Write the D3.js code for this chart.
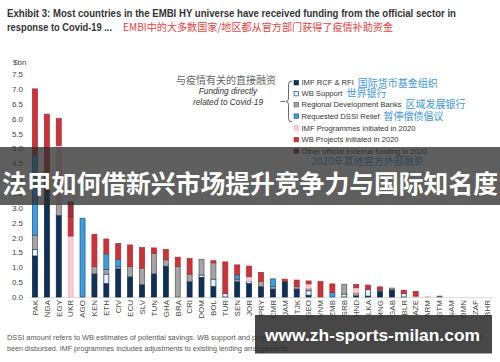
<!DOCTYPE html>
<html lang="en">
<head>
<meta charset="utf-8">
<script src="https://cdn.jsdelivr.net/npm/d3@7"></script>
<style>
body { margin: 0; background: #fff; }
svg { display: block; font-family: "Liberation Sans", Arial, sans-serif; }
.tick-label { font-size: 8px; fill: #444; }
.cn { font-family: "Noto Sans CJK SC", sans-serif; }
</style>
</head>
<body>
<div id="chart"></div>
<script>

var countries = ["PAK","NGA","EGY","UKR","AGO","KEN","ETH","CIV","ECU","SLV","TUN","GHA","BRA","CRI","DOM","BOL","TUR","SEN","JOR","PRY","CMR","JAM","TJK","GEO","VNM","ZMB","SRB","HND","LKA","MNG","GAB","BLR","AZE","ARM","GTM","NAM","OMN","ZAF","BHR"];

// segment sizes, $bn
var imfRcf   = [1.38,3.6,2.75,0,0,0.78,0.45,0.95,0.68,0.42,0.78,1.04,0,0.52,0.66,0.35,0,0.52,0.45,0.35,0.27,0.52,0.27,0.06,0,0,0,0.04,0.03,0.2,0.24,0,0,0,0,0,0,0,0];
var wbSupport= [0.22,0,0,0,0,0,0.32,0,0,0,0,0,0,0,0.08,0.25,0.12,0,0.08,0,0,0,0,0.15,0,0,0.1,0,0.22,0,0,0.12,0,0,0,0,0,0,0];
var rdb      = [0.48,0,0.35,0,0,0.24,0.16,0.08,0.34,0.55,0.69,0.21,1.02,0.25,0.53,0.55,0,0.08,0,0.17,0.08,0,0.08,0.08,0,0,0.33,0.1,0,0.04,0.06,0,0,0,0.03,0,0,0,0];
var dssi     = [2.7,0,0,0,2.65,0,0.52,0.24,0,0,0,0,0,0,0,0,0,0.14,0,0,0.26,0,0,0,0,0.15,0,0,0,0,0,0,0,0,0,0,0,0,0];
var imfProg  = [0,0,2.0,2.05,0,0,0,0,0,0,0,0,0,0,0,0,0,0,0.15,0,0,0,0,0.15,0,0,0,0.17,0,0,0,0,0.03,0.02,0,0,0,0,0];
var wbProj   = [2.22,2.55,0.9,0.65,0,1.09,0.5,0.53,0.73,0.69,0.18,0.35,0.32,0.52,0,0.07,1.06,0.34,0.36,0.31,0,0.08,0.22,0.1,0.52,0.29,0,0.11,0.15,0.1,0,0.11,0.16,0,0,0,0,0,0];
var otherOff = [0,0,0,0.5,0,0,0,0,0,0,0,0,0,0,0,0,0,0,0,0,0,0,0,0,0,0,0,0,0,0,0,0,0,0,0,0,0,0,0];

var seriesKeys = ["imf","wbs","rdb","dssi","imfp","wbp","oth"];
var seriesNames = ["IMF RCF & RFI","WB Support","Regional Development Banks","Requested DSSI Relief","IMF Programmes initiated in 2020","WB Projects initiated in 2020","Other official external funding in 2020"];
var seriesCn = ["国际货币基金组织","世界银行","区域发展银行","暂停偿债倡议","","",""];
var fills   = ["#10305a","#e4f1fa","#a5a5a5","#3c9de0","#f6cdd1","#cc3338","#9a3236"];
var strokes = ["#0b2444","#10305a","#555555","#1d4f80","#efb6bc","#a52a2f","#7a2528"];

var yTicks = [0,0.5,1,1.5,2,2.5,3,3.5,4,4.5,5,5.5,6,6.5,7,7.5];

var width = 500, height = 362;

var rows = countries.map(function(c, i) {
  return {country: c, imf: imfRcf[i], wbs: wbSupport[i], rdb: rdb[i], dssi: dssi[i],
          imfp: imfProg[i], wbp: wbProj[i], oth: otherOff[i]};
});

var svg = d3.select("#chart").append("svg")
    .attr("width", width)
    .attr("height", height);

var x = d3.scaleBand().domain(countries).range([29, 493]).paddingInner(0.52).paddingOuter(0.26);
var y = d3.scaleLinear().domain([0, 7.5]).range([297, 74]);

// title
svg.append("text")
    .attr("x", 7).attr("y", 17.3)
    .attr("textLength", 449).attr("lengthAdjust", "spacingAndGlyphs")
    .style("font-family", "'Liberation Sans Narrow', 'Arial Narrow', 'Liberation Sans', sans-serif")
    .style("font-weight", "bold").style("font-size", "10px").style("fill", "#333")
    .text("Exhibit 3: Most countries in the EMBI HY universe have received funding from the official sector in");
svg.append("text")
    .attr("x", 7).attr("y", 30.7)
    .attr("textLength", 105).attr("lengthAdjust", "spacingAndGlyphs")
    .style("font-family", "'Liberation Sans Narrow', 'Arial Narrow', 'Liberation Sans', sans-serif")
    .style("font-weight", "bold").style("font-size", "10px").style("fill", "#333")
    .text("response to Covid-19 ...");
svg.append("text")
    .attr("class", "cn")
    .attr("x", 123).attr("y", 31)
    .attr("textLength", 270).attr("lengthAdjust", "spacingAndGlyphs")
    .style("font-size", "10.5px").style("fill", "#e8423f")
    .text("EMBI中的大多数国家/地区都从官方部门获得了疫情补助资金");

// y axis
svg.append("text")
    .attr("class", "tick-label")
    .attr("x", 13).attr("y", 61.7).attr("dy", ".35em")
    .text("$bn");

svg.append("g")
    .attr("transform", "translate(23,0)")
    .call(d3.axisLeft(y).tickValues(yTicks).tickSize(0).tickPadding(0)
      .tickFormat(d3.format(".1f")))
    .call(function(g) { g.select(".domain").remove(); })
    .selectAll("text")
      .attr("class", "tick-label")
      .style("font-family", "'Liberation Sans', Arial, sans-serif");

// baseline
svg.append("line")
    .attr("x1", 29).attr("x2", 493)
    .attr("y1", y(0) + 0.5).attr("y2", y(0) + 0.5)
    .style("stroke", "#d6d6d6").style("stroke-width", 0.8);

// bars
var stacked = d3.stack().keys(seriesKeys)(rows);

svg.selectAll(".series")
    .data(stacked)
  .enter().append("g")
    .attr("class", "series")
    .style("fill", function(d, i) { return fills[i]; })
    .style("stroke", function(d, i) { return strokes[i]; })
    .style("stroke-width", 0.7)
  .selectAll("rect")
    .data(function(d) { return d.filter(function(p) { return p[1] - p[0] > 0; }); })
  .enter().append("rect")
    .attr("x", function(d) { return x(d.data.country) + 0.35; })
    .attr("y", function(d) { return y(d[1]); })
    .attr("width", x.bandwidth() - 0.7)
    .attr("height", function(d) { return y(d[0]) - y(d[1]); });

// x axis labels
svg.append("g")
    .attr("transform", "translate(0,300)")
    .call(d3.axisBottom(x).tickSize(0).tickPadding(0))
    .call(function(g) { g.select(".domain").remove(); })
    .selectAll("text")
      .attr("class", "tick-label")
      .style("font-family", "'Liberation Sans', Arial, sans-serif")
      .attr("x", 0).attr("y", 0).attr("dy", ".35em")
      .attr("transform", "rotate(-90)")
      .style("text-anchor", "end");

// legend
var legend = svg.append("g");

legend.append("text").attr("class", "cn")
    .attr("x", 226).attr("y", 80).attr("dy", ".35em")
    .style("text-anchor", "middle").style("font-size", "10px").style("fill", "#666")
    .text("与疫情有关的直接融资");
legend.append("text")
    .attr("x", 228).attr("y", 91).attr("dy", ".35em")
    .style("text-anchor", "middle").style("font-size", "8.3px").style("font-style", "italic").style("fill", "#333")
    .text("Funding directly");
legend.append("text")
    .attr("x", 228).attr("y", 102.5).attr("dy", ".35em")
    .style("text-anchor", "middle").style("font-size", "8.3px").style("font-style", "italic").style("fill", "#333")
    .text("related to Covid-19");

legend.append("path")
    .attr("d", "M292,81 Q288.5,81 288.5,84.5 L288.5,98.5 Q288.5,101.5 286,101.5 Q288.5,101.5 288.5,104.5 L288.5,118.5 Q288.5,122 292,122")
    .style("fill", "none").style("stroke", "#444").style("stroke-width", 0.8);
legend.append("line")
    .attr("x1", 280.5).attr("x2", 285).attr("y1", 101.5).attr("y2", 101.5)
    .style("stroke", "#444").style("stroke-width", 0.8);

var legendY = [82.7, 93.6, 104.6, 116.2, 128, 139.6, 151.2];

var item = legend.selectAll(".legend")
    .data(seriesNames)
  .enter().append("g")
    .attr("class", "legend")
    .attr("transform", function(d, i) { return "translate(294," + legendY[i] + ")"; });

item.append("rect")
    .attr("x", 0).attr("y", -2.3)
    .attr("width", 4.6).attr("height", 4.6)
    .style("fill", function(d, i) { return fills[i]; })
    .style("stroke", function(d, i) { return strokes[i]; })
    .style("stroke-width", 0.6);

item.append("text")
    .attr("x", 7.5).attr("dy", ".35em")
    .style("font-size", "7.6px").style("fill", "#333")
    .text(String);

item.each(function(d, i) {
  if (!seriesCn[i]) return;
  var g = d3.select(this);
  var w = g.select("text").node().getComputedTextLength();
  g.append("text").attr("class", "cn")
      .attr("x", 7.5 + w + 4).attr("dy", ".38em")
      .style("font-size", "10px").style("fill", "#3d97de")
      .text(seriesCn[i]);
});

legend.append("text").attr("class", "cn")
    .attr("x", 311.5).attr("y", 161).attr("dy", ".38em")
    .style("font-size", "10px").style("fill", "#3d97de")
    .text("2020年其他官方外部融资");

// footnote
svg.append("text")
    .attr("x", 7).attr("y", 340)
    .attr("textLength", 475).attr("lengthAdjust", "spacingAndGlyphs")
    .style("font-family", "'Liberation Sans Narrow', 'Arial Narrow', 'Liberation Sans', sans-serif")
    .style("font-size", "7.4px").style("fill", "#555")
    .text("DSSI amount refers to WB estimates of potential savings. WB support and projects initiated in 2020 refer to total commitments, which have not all");
svg.append("text")
    .attr("x", 7).attr("y", 350.5)
    .attr("textLength", 283).attr("lengthAdjust", "spacingAndGlyphs")
    .style("font-family", "'Liberation Sans Narrow', 'Arial Narrow', 'Liberation Sans', sans-serif")
    .style("font-size", "7.4px").style("fill", "#555")
    .text("been disbursed. IMF programmes includes adjustments to existing lending arrangements.");

// banner overlay
svg.append("rect")
    .attr("x", 0).attr("y", 147).attr("width", width).attr("height", 58)
    .style("fill", "rgba(45,45,45,0.76)");
svg.append("text").attr("class", "cn")
    .attr("x", 2).attr("y", 193)
    .attr("textLength", 496).attr("lengthAdjust", "spacingAndGlyphs")
    .style("font-size", "24.5px").style("font-weight", "bold").style("fill", "#fff")
    .text("法甲如何借新兴市场提升竞争力与国际知名度");

// watermark box
svg.append("rect")
    .attr("x", 255).attr("y", 315).attr("width", 237).attr("height", 38.5)
    .style("fill", "rgba(45,45,45,0.88)");
svg.append("text")
    .attr("x", 265).attr("y", 341)
    .attr("textLength", 215).attr("lengthAdjust", "spacingAndGlyphs")
    .style("font-size", "17px").style("font-weight", "bold").style("fill", "#fff")
    .text("www.zh-sports-milan.com");

</script>
</body>
</html>
